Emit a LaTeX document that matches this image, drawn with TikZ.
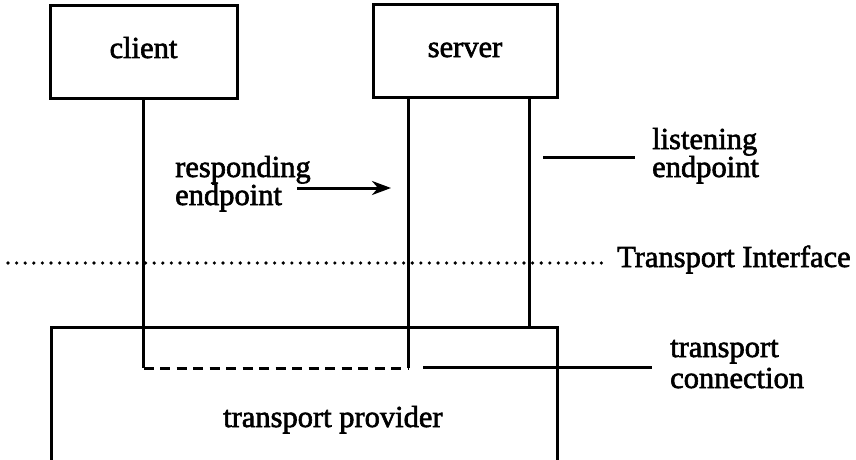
\documentclass[tikz,border=0pt]{standalone}
\usepackage{fontspec}
\setmainfont{Liberation Serif}[FakeBold=2]
\usetikzlibrary{arrows.meta}

\tikzset{
  every picture/.style={x=1pt, y=-1pt},
  stroke/.style={line width=3pt, line cap=butt, line join=miter},
  process/.style={stroke, draw, rectangle, inner sep=0pt, font=\biglabel,
    text height=18pt, text depth=6pt},
  txt/.style={inner sep=0pt, font=\biglabel, align=left, anchor=base west},
  dotline/.style={line width=3.6pt, line cap=round, dash pattern=on 0pt off 8.6pt},
  dashline/.style={stroke, dash pattern=on 10pt off 6.5pt},
  pointer/.style={stroke, -{Stealth[length=19pt, width=14pt, inset=6pt]}}
}
\newcommand{\biglabel}{\fontsize{30.5}{28}\selectfont}

\begin{document}
\begin{tikzpicture}
  \useasboundingbox (0,0) rectangle (856,460);
  \clip (0,0) rectangle (856,460);

  % the two processes
  \node[process, minimum width=187pt, minimum height=92pt] (client) at (143.5,52) {client};
  \node[process, minimum width=184pt, minimum height=92pt] (server) at (465,51) {server};

  % endpoints and the connection between them
  \coordinate (cend) at (143.5,368);
  \coordinate (send) at (408,368);
  \coordinate (lend) at (529,327);
  \draw[stroke] (client.south) -- (cend);
  \draw[dashline] (cend) -- (send);
  \draw[stroke] (send) -- (send |- server.south);
  \draw[stroke] (lend |- server.south) -- (lend);

  % transport provider, open at the bottom
  \coordinate (pbl) at (51,470);
  \coordinate (ptl) at (51,327);
  \coordinate (ptr) at (557,327);
  \coordinate (pbr) at (557,470);
  \draw[stroke] (pbl) -- (ptl) -- (ptr) -- (pbr);
  \node[txt] (provider) at (223,427) {transport provider};

  % transport interface boundary
  \coordinate (ti0) at (8,263);
  \coordinate (ti1) at (608,263);
  \draw[dotline] (ti0) -- (ti1);
  \node[txt] (tiface) at (617,267) {Transport Interface};

  % labels (anchored at the baseline of their last line)
  \node[txt] (resp) at (175,205) {responding\\endpoint};
  \coordinate (ra) at (297,188);
  \coordinate (rb) at (391,188);
  \draw[pointer] (ra) -- (rb);

  \node[txt] (listen) at (652,177) {listening\\endpoint};
  \coordinate (la) at (543,157);
  \coordinate (lb) at (635,157);
  \draw[stroke] (la) -- (lb);

  \node[txt] (conn) at (670,388) {transport\\[3pt]connection};
  \coordinate (ca) at (423,367);
  \coordinate (cb) at (652,367);
  \draw[stroke] (ca) -- (cb);
\end{tikzpicture}
\end{document}
